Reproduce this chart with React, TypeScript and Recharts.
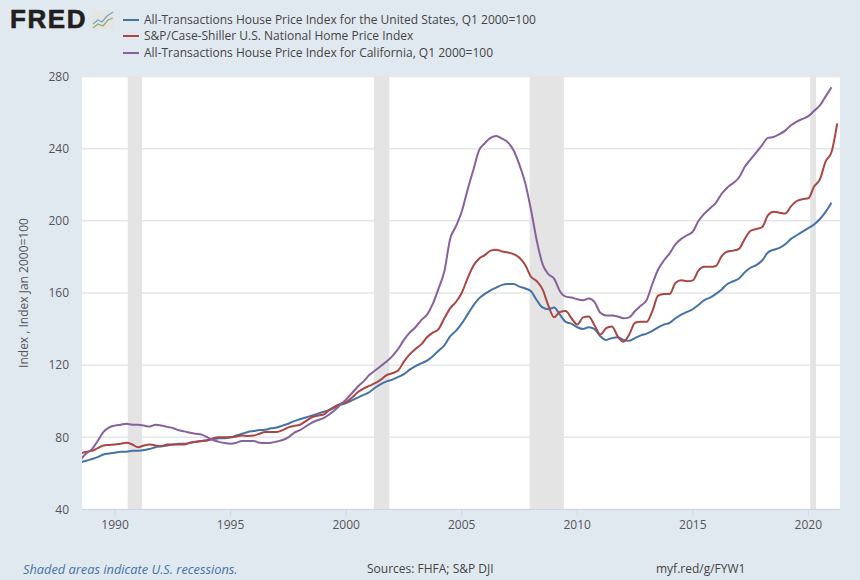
import React from "react";
import { LineChart, Line, XAxis, YAxis, CartesianGrid, ReferenceArea } from "recharts";

const FONT = "'Open Sans', sans-serif";

const usIndex = [
  66.2, 67,
  68, 69, 70.5, 71,
  71.5, 72, 72, 72.5,
  72.5, 73, 73.5, 74.5,
  75, 75.5, 76, 76.5,
  76.5, 77, 77.5, 78,
  78.5, 79, 79.5, 79.5,
  80, 81, 82, 83,
  83.5, 84, 84.2, 85,
  85.5, 86.5, 87.5, 89,
  90, 91, 92, 93,
  94, 95, 96.5, 98,
  99, 100.5, 102, 103.5,
  105, 107.5, 109.5, 111,
  112, 113.5, 115, 117.5,
  119.5, 121, 122.5, 125,
  128, 131, 136, 139,
  143, 148, 153, 157,
  159.5, 161.5, 163, 164.5,
  165, 165, 163.5, 162.5,
  161, 156, 152, 151,
  152, 148, 144, 143,
  141, 140, 141, 140,
  136, 134, 135, 135.5,
  134, 133.5, 135, 136.5,
  137.5, 139, 141, 142.5,
  143.5, 146, 148, 149.5,
  151, 153.5, 156, 157.5,
  159.5, 162, 165, 166.5,
  168, 171.5, 174, 175.5,
  178, 182.5, 184, 185,
  187, 190, 192, 194,
  196, 198, 201, 205,
  210,
];

const caseShiller = [
  71, 72,
  72.5, 74, 75.5, 75.8,
  76, 76.5, 77, 76,
  74.5, 75.5, 76, 75.5,
  75, 76, 76, 76,
  76, 77, 77.5, 78,
  78.3, 79.5, 80, 80,
  80, 80.5, 81, 80.8,
  81, 82, 83, 83,
  83, 84, 85.5, 86.3,
  87, 89, 91, 92,
  92.5, 95, 97, 98.5,
  99.5, 102, 105, 107,
  108.5, 110, 112, 114.5,
  115.5, 117, 122, 126,
  129, 131.5, 135.5, 138,
  140, 146, 151.5, 155,
  160, 168, 175, 179,
  181, 183.5, 184, 183,
  182.5, 181.5, 179.5, 175.5,
  169, 166.5, 162, 153,
  146.5, 149.5, 150, 146,
  142.5, 146.5, 147, 142,
  137, 140.5, 141.5, 136,
  133, 137, 143.5, 144,
  144, 150, 158.5, 159.5,
  159.5, 165.5, 167, 166.5,
  167, 172.5, 174.5, 174.5,
  175, 180.5, 183, 183.5,
  184.5, 190, 194.5, 195.5,
  196.5, 203, 205, 204.5,
  204, 208, 211, 212,
  212.5, 219, 223, 233,
  238, 254,
];

const california = [
  67.5, 71,
  73.5, 78, 83, 85.5,
  86.5, 87, 87.5, 87,
  87, 86.5, 86, 87,
  86.5, 85.8, 85.2, 84,
  83.3, 82.5, 82, 81.5,
  80, 78.5, 77.5, 76.8,
  76.5, 77, 78, 78,
  78, 77, 76.8, 77,
  77.7, 78.5, 80, 82.5,
  84, 86, 88, 89.5,
  90.5, 92.5, 95, 98,
  101, 104.5, 108, 111,
  114.5, 117, 119.5, 122,
  125, 129, 134, 138,
  141, 145, 148, 154,
  162.5, 172, 190, 197,
  205, 217, 228, 239,
  243, 246, 247, 245.5,
  243.5, 239, 231, 221,
  206, 189, 176, 170.5,
  168, 161, 158, 157.5,
  156.5, 156, 157, 155,
  149, 147.5, 147.5, 147,
  146, 146.5, 150, 153,
  156, 165, 173, 178,
  182, 187, 190, 192,
  194, 200, 204, 207,
  210, 215, 218.5, 221,
  224, 230, 234, 238,
  242, 246, 246.5, 248,
  250, 253, 255, 256.5,
  258, 261, 264, 269,
  274,
];

const yTicks = [40, 80, 120, 160, 200, 240, 280];
const xTicks = [1990, 1995, 2000, 2005, 2010, 2015, 2020];
const recessions = [
  [1990.55, 1991.17],
  [2001.2, 2001.87],
  [2007.94, 2009.42],
  [2020.08, 2020.33],
];
const seriesNames = [
  "All-Transactions House Price Index for the United States, Q1 2000=100",
  "S&P/Case-Shiller U.S. National Home Price Index",
  "All-Transactions House Price Index for California, Q1 2000=100",
];
const seriesColors = ["#4572a7", "#aa4643", "#89609e"];

const rows = caseShiller.map((v, i) => ({
  year: 1988.5 + i * 0.25,
  us: usIndex[i],
  cs: v,
  ca: california[i],
}));

const abs = (left: number, top: number, extra: React.CSSProperties = {}): React.CSSProperties => ({
  position: "absolute",
  left,
  top,
  whiteSpace: "nowrap",
  fontFamily: FONT,
  ...extra,
});

export default function App() {
  return (
    <div style={{ position: "absolute", left: 0, top: 0, width: 860, height: 580, background: "#e1e9f0", overflow: "hidden" }}>
      <LineChart width={860} height={580} data={rows} margin={{ top: 76.5, right: 20, bottom: 40.5, left: 0 }}>
        <CartesianGrid vertical={false} stroke="#e6e6e6" strokeWidth={1.5} fill="#ffffff" horizontalValues={yTicks} />
        {recessions.map(([a, b]) => (
          <ReferenceArea key={a} x1={a} x2={b} fill="#e4e4e4" fillOpacity={1} stroke="none" ifOverflow="hidden" />
        ))}
        <XAxis
          dataKey="year"
          type="number"
          domain={[1988.57, 2021.37]}
          allowDataOverflow
          ticks={xTicks}
          height={30}
          tickSize={6}
          tickMargin={5}
          stroke="#c8d6e6"
          tick={{ fill: "#555555", fontSize: 12, fontFamily: FONT }}
          tickLine={{ stroke: "#c8d6e6" }}
        />
        <YAxis
          type="number"
          domain={[40, 280]}
          ticks={yTicks}
          width={82}
          axisLine={false}
          tickLine={false}
          tickMargin={7}
          tick={{ fill: "#555555", fontSize: 12, fontFamily: FONT }}
          label={{
            value: "Index , Index Jan 2000=100",
            angle: -90,
            position: "insideLeft",
            offset: 24,
            style: { textAnchor: "middle", fill: "#555555", fontSize: 12, fontFamily: FONT },
          }}
        />
        <Line dataKey="us" name={seriesNames[0]} stroke={seriesColors[0]} strokeWidth={2} dot={false} type="monotone" isAnimationActive={false} />
        <Line dataKey="cs" name={seriesNames[1]} stroke={seriesColors[1]} strokeWidth={2} dot={false} type="monotone" isAnimationActive={false} />
        <Line dataKey="ca" name={seriesNames[2]} stroke={seriesColors[2]} strokeWidth={2} dot={false} type="monotone" isAnimationActive={false} />
      </LineChart>

      <div style={abs(10, 4, { fontFamily: "'Liberation Sans', sans-serif", fontWeight: 700, fontSize: 26, color: "#231f20", letterSpacing: 1.6, WebkitTextStroke: "0.6px #231f20" })}>FRED</div>
      <svg style={{ position: "absolute", left: 92, top: 10 }} width={22} height={20}>
        <rect x={0} y={0} width={22} height={20} rx={2} fill="#e4e6e4" />
        <polyline points="1,14 6,10 10,12 15,6 21,2" fill="none" stroke="#7f9fc0" strokeWidth={1.2} />
        <polyline points="1,18 6,14 11,16 16,10 21,8" fill="none" stroke="#8fb06a" strokeWidth={1.2} />
      </svg>

      {seriesNames.map((name, i) => (
        <React.Fragment key={name}>
          <div style={{ position: "absolute", left: 123, top: 19 + i * 16.4, width: 16, height: 2, background: seriesColors[i] }} />
          <div style={abs(144, 11 + i * 16.4, { fontSize: 12, lineHeight: "18px", color: "#444444" })}>{name}</div>
        </React.Fragment>
      ))}

      <div style={abs(23, 560, { fontSize: 12.8, lineHeight: "18px", fontStyle: "italic", color: "#4572a7" })}>Shaded areas indicate U.S. recessions.</div>
      <div style={abs(367, 560, { fontSize: 12, lineHeight: "18px", color: "#444444" })}>Sources: FHFA; S&amp;P DJI</div>
      <div style={abs(656, 560, { fontSize: 12, lineHeight: "18px", color: "#444444" })}>myf.red/g/FYW1</div>
    </div>
  );
}
